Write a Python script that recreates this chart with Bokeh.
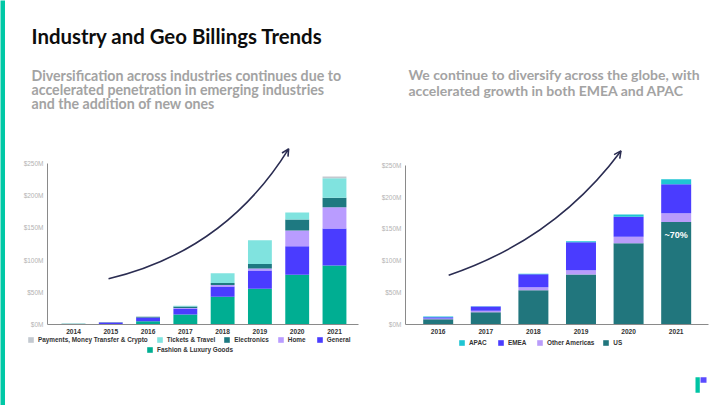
from bokeh.plotting import figure
from bokeh.layouts import row, column
from bokeh.models import Range1d, FixedTicker, Legend, LegendItem, Arrow, OpenHead, Label
from bokeh.core.properties import value
from bokeh.embed import file_html
from bokeh.resources import INLINE

# ---------------- data ----------------
ind_years = [2014, 2015, 2016, 2017, 2018, 2019, 2020, 2021]
fashion = [0.7, 0.5, 5.0, 15.5, 43.0, 55.6, 77.4, 91.5]
general = [0.2, 2.6, 6.0, 9.5, 16.0, 28.4, 44.2, 57.5]
home = [0.0, 0.0, 0.0, 0.8, 2.5, 3.0, 24.4, 33.0]
electronics = [0.4, 0.3, 1.2, 2.2, 3.0, 7.0, 17.0, 15.0]
tickets = [0.3, 0.2, 0.0, 1.0, 15.0, 37.0, 11.0, 30.0]
payments = [0.0, 0.0, 0.0, 0.0, 0.0, 0.0, 0.0, 3.0]
ind_names = ["Fashion & Luxury Goods", "General", "Home", "Electronics",
             "Tickets & Travel", "Payments, Money Transfer & Crypto"]
ind_colors = ["#00ae92", "#4a3cff", "#b99cff", "#1e7981", "#80e3df", "#c3c9d0"]

geo_years = [2016, 2017, 2018, 2019, 2020, 2021]
us = [8.4, 19.4, 53.9, 78.5, 127.6, 161.0]
other_americas = [1.0, 2.0, 4.7, 6.8, 10.0, 13.7]
emea = [2.1, 6.8, 20.4, 43.9, 31.4, 45.3]
apac = [1.0, 0.6, 0.5, 1.6, 3.6, 8.0]
geo_names = ["US", "Other Americas", "EMEA", "APAC"]
geo_colors = ["#21767d", "#b99cfa", "#4a3cff", "#1fc5d3"]

y_ticks = [0, 50, 100, 150, 200, 250]
y_tick_labels = ["$0M", "$50M", "$100M", "$150M", "$200M", "$250M"]

title_text = "Industry and Geo Billings Trends"
left_sub = ["Diversification across industries continues due to",
            "accelerated penetration in emerging industries",
            "and the addition of new ones"]
right_sub = ["We continue to diversify across the globe, with",
             "accelerated growth in both EMEA and APAC"]

TEAL = "#00c8a6"
ARROW_C = "#2b2d52"
FONT = "Liberation Sans"
HFONT = "Lato"


def blank(p):
    p.axis.visible = False
    p.grid.visible = False
    p.outline_line_color = None
    p.min_border = 0
    p.background_fill_color = "white"
    p.border_fill_color = "white"


# ---------------- left strip ----------------
strip = figure(width=5, height=405, toolbar_location=None, output_backend="svg",
               x_range=Range1d(0, 1), y_range=Range1d(0, 1))
blank(strip)
strip.background_fill_color = TEAL
strip.border_fill_color = TEAL

# ---------------- header ----------------
header = figure(width=715, height=140, toolbar_location=None, output_backend="svg",
                x_range=Range1d(5, 720), y_range=Range1d(140, 0))
blank(header)
header.text(x=[31], y=[35], text=[title_text], text_font=value(HFONT),
            text_font_style="bold", text_font_size="20.4px", text_color="#0d0d0d",
            text_baseline="middle", text_align="left")
header.text(x=[31] * 3, y=[74.5, 88.5, 103], text=left_sub, text_font=value(HFONT),
            text_font_style="bold", text_font_size="14.2px", text_color="#a3a3a3",
            text_baseline="middle", text_align="left")
header.text(x=[408] * 2, y=[73.5, 89.5], text=right_sub, text_font=value(HFONT),
            text_font_style="bold", text_font_size="14px", text_color="#a3a3a3",
            text_baseline="middle", text_align="left")


def style_chart(p, years):
    p.grid.visible = False
    p.outline_line_color = None
    for ax in (p.xaxis, p.yaxis):
        ax.major_tick_line_color = None
        ax.minor_tick_line_color = None
        ax.major_tick_out = 0
        ax.major_tick_in = 0
        ax.minor_tick_out = 0
        ax.minor_tick_in = 0
        ax.axis_line_color = "#8a8a8a"
        ax.major_label_text_font = FONT
        ax.major_label_standoff = 4
    p.xaxis.ticker = FixedTicker(ticks=years)
    p.xaxis.major_label_overrides = {y: str(y) for y in years}
    p.xaxis.major_label_text_font_style = "bold"
    p.xaxis.major_label_text_font_size = "6.6px"
    p.xaxis.major_label_text_color = "#333333"
    p.yaxis.ticker = FixedTicker(ticks=y_ticks)
    p.yaxis.major_label_overrides = dict(zip(y_ticks, y_tick_labels))
    p.yaxis.bounds = (y_ticks[0], y_ticks[-1])
    p.yaxis.major_label_text_font_size = "6.5px"
    p.yaxis.major_label_text_color = "#b3b3b3"


def make_legend(items, loc):
    return Legend(items=items, orientation="horizontal", location=loc,
                  padding=0, margin=0, spacing=8, label_standoff=4,
                  glyph_width=7, glyph_height=7, label_height=8,
                  label_text_font=FONT, label_text_font_style="bold",
                  label_text_font_size="6.4px", label_text_color="#333333",
                  label_text_baseline="middle",
                  border_line_color=None, background_fill_alpha=0)


# ---------------- left chart (industries) ----------------
left = figure(width=355, height=196, toolbar_location=None, output_backend="svg",
              x_range=Range1d(2013.303, 2021.644), y_range=Range1d(0, 282.6),
              min_border_left=42, min_border_right=2, min_border_top=2,
              min_border_bottom=12)
style_chart(left, ind_years)
ind_src = dict(year=ind_years, fashion=fashion, general=general, home=home,
               electronics=electronics, tickets=tickets, payments=payments)
ind_keys = ["fashion", "general", "home", "electronics", "tickets", "payments"]
left.vbar_stack(ind_keys, x="year", width=0.64, color=ind_colors,
                line_color=None, source=ind_src)
left.quadratic(x0=[2014.94], y0=[71.0], x1=[2019.77], y1=[272.8],
               cx=[2018.08], cy=[114.4], line_color=ARROW_C, line_width=1.6)
left.add_layout(Arrow(end=OpenHead(size=7, line_color=ARROW_C, line_width=1.6),
                      x_start=2019.72, y_start=268.0, x_end=2019.77, y_end=272.8,
                      line_color=ARROW_C, line_width=1.6))

# ---------------- right chart (geo) ----------------
right = figure(width=360, height=196, toolbar_location=None, output_backend="svg",
               x_range=Range1d(2015.313, 2021.679), y_range=Range1d(0, 285.7),
               min_border_left=45, min_border_right=12, min_border_top=2,
               min_border_bottom=12)
style_chart(right, geo_years)
geo_src = dict(year=geo_years, us=us, oa=other_americas, emea=emea, apac=apac)
right.vbar_stack(["us", "oa", "emea", "apac"], x="year", width=0.63,
                 color=geo_colors, line_color=None, source=geo_src)
right.quadratic(x0=[2016.22], y0=[77.4], x1=[2019.84], y1=[272.5],
                cx=[2018.46], cy=[133.9], line_color=ARROW_C, line_width=1.6)
right.add_layout(Arrow(end=OpenHead(size=7, line_color=ARROW_C, line_width=1.6),
                       x_start=2019.80, y_start=268.3, x_end=2019.84, y_end=272.5,
                       line_color=ARROW_C, line_width=1.6))
right.add_layout(Label(x=geo_years[-1], y=140, text="~70%", text_color="white",
                       text_font=FONT, text_font_style="bold", text_font_size="9px",
                       text_align="center", text_baseline="middle"))

# ---------------- legends + logo strip at the bottom ----------------
bottom = figure(width=715, height=69, toolbar_location=None, output_backend="svg",
                x_range=Range1d(5, 720), y_range=Range1d(405, 336))
blank(bottom)
# off-canvas swatch glyphs that only feed the legend boxes
ind_dummy = [bottom.quad(left=[0], right=[1], top=[0], bottom=[1], color=c, line_color=None)
             for c in ind_colors]
geo_dummy = [bottom.quad(left=[0], right=[1], top=[0], bottom=[1], color=c, line_color=None)
             for c in geo_colors]
leg_a = make_legend([LegendItem(label=ind_names[i], renderers=[ind_dummy[i]])
                     for i in [5, 4, 3, 2, 1]], (22, 62))
leg_b = make_legend([LegendItem(label=ind_names[0], renderers=[ind_dummy[0]])], (141, 52))
leg_c = make_legend([LegendItem(label=geo_names[i], renderers=[geo_dummy[i]])
                     for i in [3, 2, 1, 0]], (453, 59))
for lg in (leg_a, leg_b, leg_c):
    bottom.add_layout(lg)
bottom.quad(left=[695], right=[699.3], top=[376.7], bottom=[392.3],
            color="#00c4a4", line_color=None)
bottom.quad(left=[700], right=[706], top=[376.7], bottom=[382.3],
            color="#5a4bff", line_color=None)

layout = row(strip, column(header, row(left, right, spacing=0), bottom, spacing=0), spacing=0)

open("out.html", "w").write(file_html(layout, INLINE))
